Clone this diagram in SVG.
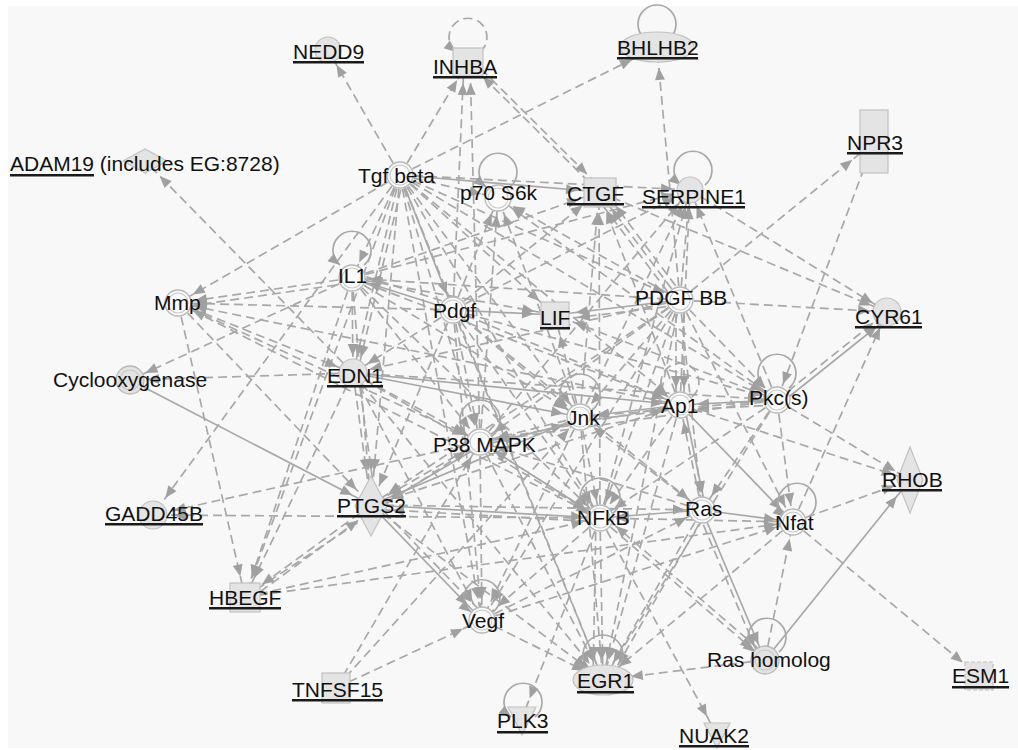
<svg xmlns="http://www.w3.org/2000/svg" width="1018" height="750" viewBox="0 0 1018 750">
<style>
#connectors path{fill:none;stroke:#a8a8a8;stroke-width:1.7}
.d{stroke-dasharray:9 5}
.a{marker-end:url(#ma)}
.b{marker-end:url(#mb)}
.c{marker-end:url(#mc)}
.e{marker-end:url(#md)}
.l{marker-end:url(#m0)}
.n{fill:none}
.f{fill:#e4e4e4;stroke:#c2c2c2;stroke-width:1.2}
.go{fill:#fbfbfb;stroke:#b8b8b8;stroke-width:1.3}
.gi{fill:none;stroke:#c8c8c8;stroke-width:1.1}
.gg{fill:#e2e2e2;stroke:#b8b8b8;stroke-width:1.3}
text{font-family:"Liberation Sans",Arial,sans-serif;font-size:21px;fill:#111}
.u{fill:#1a1a1a}
</style>
<defs>
<marker id="ma" markerUnits="userSpaceOnUse" markerWidth="12" markerHeight="10" refX="29" refY="5" orient="auto" overflow="visible"><path d="M0,0L12,5L0,10z" fill="#a0a0a0"/></marker>
<marker id="mb" markerUnits="userSpaceOnUse" markerWidth="12" markerHeight="10" refX="33" refY="5" orient="auto" overflow="visible"><path d="M0,0L12,5L0,10z" fill="#a0a0a0"/></marker>
<marker id="mc" markerUnits="userSpaceOnUse" markerWidth="12" markerHeight="10" refX="40" refY="5" orient="auto" overflow="visible"><path d="M0,0L12,5L0,10z" fill="#a0a0a0"/></marker>
<marker id="md" markerUnits="userSpaceOnUse" markerWidth="12" markerHeight="10" refX="46" refY="5" orient="auto" overflow="visible"><path d="M0,0L12,5L0,10z" fill="#a0a0a0"/></marker>
<marker id="m0" markerUnits="userSpaceOnUse" markerWidth="12" markerHeight="10" refX="12" refY="5" orient="auto" overflow="visible"><path d="M0,0L12,5L0,10z" fill="#a0a0a0"/></marker>
</defs>
<rect x="0" y="0" width="1018" height="750" fill="#ffffff"/>
<rect x="8" y="6" width="1010" height="742" fill="#f8f8f8"/>
<g id="connectors">
<path class="d a" d="M400 175L328 50"/>
<path class="d b" d="M400 175L468 62"/>
<path class="d c" d="M400 175L657 47"/>
<path class="s b" d="M400 175L599 192"/>
<path class="d a" d="M400 175L690 190"/>
<path class="d a" d="M400 175L352 278"/>
<path class="d a" d="M400 175L178 303"/>
<path class="d a" d="M400 175L353 373"/>
<path class="d a" d="M404 176L357 374"/>
<path class="d e" d="M400 175L371 505"/>
<path class="d a" d="M400 175L480 442"/>
<path class="d a" d="M400 175L580 417"/>
<path class="d b" d="M400 175L555 315"/>
<path class="s a" d="M400 175L453 310"/>
<path class="d a" d="M400 175L600 518"/>
<path class="d a" d="M400 175L680 405"/>
<path class="d a" d="M400 175L777 400"/>
<path class="d b" d="M400 175L153 515"/>
<path class="d b" d="M400 175L245 597"/>
<path class="d b" d="M400 175L603 680"/>
<path class="d b" d="M400 175L482 620"/>
<path class="d a" d="M400 175L498 198"/>
<path class="d a" d="M400 175L680 300"/>
<path class="d a" d="M453 310L498 198"/>
<path class="d a" d="M680 300L498 198"/>
<path class="d a" d="M777 400L498 198"/>
<path class="d a" d="M480 442L498 198"/>
<path class="d a" d="M580 417L498 198"/>
<path class="d b" d="M599 192L468 62"/>
<path class="d b" d="M471 59L602 189"/>
<path class="d b" d="M453 310L464 62"/>
<path class="d b" d="M480 442L470 62"/>
<path class="d b" d="M680 300L657 47"/>
<path class="d b" d="M680 300L599 192"/>
<path class="d b" d="M684 297L603 189"/>
<path class="d b" d="M676 303L595 195"/>
<path class="d b" d="M453 310L599 192"/>
<path class="d b" d="M580 417L599 192"/>
<path class="d b" d="M680 405L599 192"/>
<path class="d b" d="M352 278L599 192"/>
<path class="d b" d="M600 518L599 192"/>
<path class="d a" d="M680 300L690 190"/>
<path class="d a" d="M453 310L690 190"/>
<path class="d a" d="M580 417L690 190"/>
<path class="d a" d="M680 405L690 190"/>
<path class="d a" d="M777 400L690 190"/>
<path class="d a" d="M480 442L690 190"/>
<path class="d a" d="M690 190L887 312"/>
<path class="d a" d="M599 192L887 312"/>
<path class="d a" d="M352 278L690 190"/>
<path class="d a" d="M600 518L690 190"/>
<path class="d c" d="M680 300L874 142"/>
<path class="d a" d="M874 142L777 400"/>
<path class="s a" d="M453 310L352 278"/>
<path class="d a" d="M455 305L354 273"/>
<path class="d a" d="M680 300L352 278"/>
<path class="d a" d="M352 278L178 303"/>
<path class="d a" d="M350 283L176 308"/>
<path class="d a" d="M352 278L353 373"/>
<path class="d a" d="M352 278L130 380"/>
<path class="d e" d="M352 278L371 505"/>
<path class="d a" d="M352 278L600 518"/>
<path class="d a" d="M352 278L480 442"/>
<path class="d a" d="M352 278L580 417"/>
<path class="d b" d="M352 278L555 315"/>
<path class="d a" d="M352 278L680 405"/>
<path class="d b" d="M352 278L245 597"/>
<path class="d a" d="M453 310L178 303"/>
<path class="d a" d="M178 303L353 373"/>
<path class="d b" d="M178 303L245 597"/>
<path class="d b" d="M178 303L371 505"/>
<path class="d a" d="M178 303L480 442"/>
<path class="d a" d="M680 405L178 303"/>
<path class="d a" d="M600 518L178 303"/>
<path class="d a" d="M353 373L130 380"/>
<path class="s b" d="M130 380L371 505"/>
<path class="d b" d="M353 373L145 161"/>
<path class="d e" d="M353 373L371 505"/>
<path class="d e" d="M358 373L376 505"/>
<path class="d b" d="M353 373L245 597"/>
<path class="d a" d="M353 373L480 442"/>
<path class="s a" d="M353 373L580 417"/>
<path class="s a" d="M353 373L680 405"/>
<path class="d a" d="M353 373L600 518"/>
<path class="d a" d="M353 373L777 400"/>
<path class="d b" d="M353 373L603 680"/>
<path class="d b" d="M353 373L482 620"/>
<path class="d a" d="M453 310L353 373"/>
<path class="d a" d="M680 300L353 373"/>
<path class="s b" d="M453 310L555 315"/>
<path class="d a" d="M453 310L480 442"/>
<path class="d a" d="M453 310L580 417"/>
<path class="d a" d="M453 310L600 518"/>
<path class="d a" d="M453 310L680 405"/>
<path class="d a" d="M453 310L777 400"/>
<path class="d a" d="M453 310L702 510"/>
<path class="d b" d="M453 310L603 680"/>
<path class="d b" d="M453 310L371 505"/>
<path class="d b" d="M453 310L482 620"/>
<path class="s b" d="M680 300L555 315"/>
<path class="d b" d="M680 305L557 320"/>
<path class="d a" d="M680 300L887 312"/>
<path class="d a" d="M676 300L676 405"/>
<path class="d a" d="M684 300L684 405"/>
<path class="d a" d="M680 300L777 400"/>
<path class="d a" d="M680 300L580 417"/>
<path class="d a" d="M680 300L480 442"/>
<path class="d a" d="M680 300L600 518"/>
<path class="d a" d="M680 300L702 510"/>
<path class="d b" d="M680 300L603 680"/>
<path class="d b" d="M680 300L371 505"/>
<path class="d b" d="M680 300L482 620"/>
<path class="d a" d="M680 300L793 522"/>
<path class="d a" d="M777 400L887 312"/>
<path class="s a" d="M780 404L890 316"/>
<path class="d a" d="M777 400L910 480"/>
<path class="s a" d="M777 400L680 405"/>
<path class="d a" d="M777 405L680 410"/>
<path class="d a" d="M777 400L580 417"/>
<path class="d a" d="M777 400L600 518"/>
<path class="d a" d="M777 400L702 510"/>
<path class="d a" d="M777 400L793 522"/>
<path class="d a" d="M777 400L480 442"/>
<path class="d b" d="M777 400L603 680"/>
<path class="d b" d="M777 400L555 315"/>
<path class="d a" d="M680 405L910 480"/>
<path class="s a" d="M680 405L580 417"/>
<path class="d a" d="M580 421L680 409"/>
<path class="d a" d="M702 510L680 405"/>
<path class="s a" d="M684 405L706 510"/>
<path class="d a" d="M680 405L600 518"/>
<path class="d b" d="M680 405L603 680"/>
<path class="d a" d="M680 405L480 442"/>
<path class="s a" d="M680 405L793 522"/>
<path class="d b" d="M680 405L371 505"/>
<path class="d a" d="M580 417L480 442"/>
<path class="s a" d="M480 446L580 421"/>
<path class="d a" d="M580 417L600 518"/>
<path class="d b" d="M580 417L603 680"/>
<path class="d b" d="M580 417L555 315"/>
<path class="s b" d="M580 417L371 505"/>
<path class="d b" d="M580 417L482 620"/>
<path class="d a" d="M702 510L580 417"/>
<path class="d b" d="M480 442L371 505"/>
<path class="s b" d="M480 446L373 510"/>
<path class="d b" d="M480 442L153 515"/>
<path class="d a" d="M480 442L600 518"/>
<path class="d b" d="M480 442L603 680"/>
<path class="d b" d="M480 442L482 620"/>
<path class="d a" d="M702 510L480 442"/>
<path class="d a" d="M336 688L480 442"/>
<path class="d a" d="M336 688L580 417"/>
<path class="d a" d="M245 597L480 442"/>
<path class="d a" d="M600 518L480 442"/>
<path class="s a" d="M371 505L600 518"/>
<path class="d b" d="M600 522L371 509"/>
<path class="s b" d="M371 505L482 620"/>
<path class="d b" d="M375 502L486 617"/>
<path class="d b" d="M371 505L245 597"/>
<path class="d b" d="M249 600L375 508"/>
<path class="d b" d="M371 505L603 680"/>
<path class="d a" d="M371 505L702 510"/>
<path class="d b" d="M600 518L153 515"/>
<path class="d b" d="M600 518L603 680"/>
<path class="d b" d="M596 518L593 680"/>
<path class="d b" d="M600 518L522 718"/>
<path class="d b" d="M600 518L717 735"/>
<path class="d a" d="M600 518L765 660"/>
<path class="d a" d="M768 657L603 515"/>
<path class="d b" d="M600 518L482 620"/>
<path class="s a" d="M702 510L600 518"/>
<path class="d a" d="M245 597L600 518"/>
<path class="d a" d="M793 522L600 518"/>
<path class="s a" d="M702 510L765 660"/>
<path class="d a" d="M698 512L761 662"/>
<path class="d b" d="M702 510L603 680"/>
<path class="d b" d="M706 512L608 682"/>
<path class="s a" d="M702 510L793 522"/>
<path class="d a" d="M482 620L702 510"/>
<path class="d b" d="M793 522L979 676"/>
<path class="d a" d="M793 522L910 480"/>
<path class="d a" d="M793 522L887 312"/>
<path class="d a" d="M765 660L793 522"/>
<path class="d a" d="M245 597L793 522"/>
<path class="d a" d="M482 620L793 522"/>
<path class="d b" d="M793 522L603 680"/>
<path class="s b" d="M765 660L910 480"/>
<path class="d c" d="M765 660L603 680"/>
<path class="d b" d="M336 688L482 620"/>
<path class="d b" d="M482 620L603 680"/>
<path class="d l" d="M480 52A19 19 0 1 0 456 52"/>
<circle class="n" cx="657" cy="24" r="19" stroke="#a8a8a8" stroke-width="1.7"/>
<path class="l" d="M510 187A19 19 0 1 0 486 187"/>
<path class="l" d="M705 185A19 19 0 1 0 681 185"/>
<path class="l" d="M364 265A19 19 0 1 0 340 265"/>
<path class="l" d="M789 388A19 19 0 1 0 765 388"/>
<path class="d l" d="M692 397A19 19 0 1 0 668 397"/>
<path class="l" d="M592 410A20 20 0 1 0 568 410"/>
<path class="l" d="M492 436A20 20 0 1 0 468 436"/>
<path class="l" d="M612 514A20 20 0 1 0 588 514"/>
<path class="l" d="M809 517A19 19 0 1 0 785 517"/>
<path class="l" d="M493 612A18 18 0 1 0 471 612"/>
<path class="l" d="M615 671A20 20 0 1 0 591 671"/>
<path class="l" d="M779 652A19 19 0 1 0 755 652"/>
<path class="l" d="M535 717A19 19 0 1 0 511 717"/>
</g>
<g id="node-NEDD9"><circle class="f" cx="328" cy="50" r="13"/><text x="293" y="59">NEDD9</text><rect class="u" x="293" y="61" width="71" height="2.5"/></g>
<g id="node-INHBA"><rect class="f" x="453" y="48" width="30" height="28"/><text x="433" y="74">INHBA</text><rect class="u" x="433" y="76" width="64" height="2.5"/></g>
<g id="node-BHLHB2"><ellipse class="f" cx="657" cy="47" rx="37" ry="15"/><text x="617" y="55">BHLHB2</text><rect class="u" x="617" y="57" width="81" height="2.5"/></g>
<g id="node-ADAM19"><path class="f" d="M123 161L145 149L167 161L145 173z"/><text x="10" y="171">ADAM19 (includes EG:8728)</text><rect class="u" x="10" y="174" width="84" height="2.5"/></g>
<g id="node-Tgfbeta"><circle class="go" cx="400" cy="175" r="13"/><circle class="gi" cx="400" cy="175" r="10"/><text x="358" y="183">Tgf beta</text></g>
<g id="node-p70S6k"><circle class="go" cx="498" cy="198" r="13"/><circle class="gi" cx="498" cy="198" r="10"/><text x="460" y="200">p70 S6k</text></g>
<g id="node-CTGF"><rect class="f" x="584" y="178" width="32" height="29"/><text x="567" y="201">CTGF</text><rect class="u" x="567" y="203" width="57" height="2.5"/></g>
<g id="node-SERPINE1"><circle class="f" cx="690" cy="190" r="13"/><text x="642" y="204">SERPINE1</text><rect class="u" x="642" y="206" width="103" height="2.5"/></g>
<g id="node-NPR3"><rect class="f" x="860" y="110" width="28" height="63"/><text x="847" y="150">NPR3</text><rect class="u" x="847" y="152" width="56" height="2.5"/></g>
<g id="node-IL1"><circle class="go" cx="352" cy="278" r="13"/><circle class="gi" cx="352" cy="278" r="10"/><text x="338" y="283">IL1</text></g>
<g id="node-Mmp"><circle class="go" cx="178" cy="303" r="13"/><circle class="gi" cx="178" cy="303" r="10"/><text x="154" y="310">Mmp</text></g>
<g id="node-Pdgf"><circle class="go" cx="453" cy="310" r="13"/><circle class="gi" cx="453" cy="310" r="10"/><text x="433" y="318">Pdgf</text></g>
<g id="node-LIF"><rect class="f" x="541" y="302" width="28" height="26"/><text x="540" y="325">LIF</text><rect class="u" x="540" y="327" width="30" height="2.5"/></g>
<g id="node-PDGFBB"><circle class="go" cx="680" cy="300" r="13"/><circle class="gi" cx="680" cy="300" r="10"/><text x="635" y="305">PDGF BB</text></g>
<g id="node-CYR61"><circle class="f" cx="887" cy="312" r="14"/><text x="855" y="324">CYR61</text><rect class="u" x="855" y="326" width="67" height="2.5"/></g>
<g id="node-Cyclooxygenase"><circle class="gg" cx="130" cy="380" r="14"/><circle class="gi" cx="130" cy="380" r="10"/><text x="53" y="387">Cyclooxygenase</text></g>
<g id="node-EDN1"><circle class="f" cx="353" cy="373" r="14"/><text x="327" y="383">EDN1</text><rect class="u" x="327" y="385" width="56" height="2.5"/></g>
<g id="node-Pkcs"><circle class="go" cx="777" cy="400" r="13"/><circle class="gi" cx="777" cy="400" r="10"/><text x="749" y="405">Pkc(s)</text></g>
<g id="node-Ap1"><circle class="go" cx="680" cy="405" r="13"/><circle class="gi" cx="680" cy="405" r="10"/><text x="661" y="413">Ap1</text></g>
<g id="node-Jnk"><circle class="go" cx="580" cy="417" r="13"/><circle class="gi" cx="580" cy="417" r="10"/><text x="567" y="425">Jnk</text></g>
<g id="node-P38MAPK"><circle class="go" cx="480" cy="442" r="13"/><circle class="gi" cx="480" cy="442" r="10"/><text x="433" y="452">P38 MAPK</text></g>
<g id="node-RHOB"><path class="f" d="M910 447L923 480L910 513L897 480z"/><text x="882" y="487">RHOB</text><rect class="u" x="882" y="489" width="60" height="2.5"/></g>
<g id="node-GADD45B"><circle class="f" cx="153" cy="515" r="14"/><text x="105" y="521">GADD45B</text><rect class="u" x="105" y="523" width="98" height="2.5"/></g>
<g id="node-PTGS2"><path class="f" d="M371 476L387 506L371 536L355 506z"/><text x="337" y="513">PTGS2</text><rect class="u" x="337" y="515" width="69" height="2.5"/></g>
<g id="node-NFkB"><circle class="go" cx="600" cy="518" r="13"/><circle class="gi" cx="600" cy="518" r="10"/><text x="577" y="525">NFkB</text></g>
<g id="node-Ras"><circle class="go" cx="702" cy="510" r="13"/><circle class="gi" cx="702" cy="510" r="10"/><text x="685" y="516">Ras</text></g>
<g id="node-Nfat"><circle class="go" cx="793" cy="522" r="13"/><circle class="gi" cx="793" cy="522" r="10"/><text x="775" y="530">Nfat</text></g>
<g id="node-HBEGF"><rect class="f" x="230" y="583" width="30" height="29"/><text x="209" y="605">HBEGF</text><rect class="u" x="209" y="607" width="72" height="2.5"/></g>
<g id="node-Vegf"><circle class="go" cx="482" cy="620" r="13"/><circle class="gi" cx="482" cy="620" r="10"/><text x="462" y="628">Vegf</text></g>
<g id="node-TNFSF15"><rect class="f" x="322" y="673" width="28" height="30"/><text x="292" y="697">TNFSF15</text><rect class="u" x="292" y="699" width="91" height="2.5"/></g>
<g id="node-Rashomolog"><circle class="gg" cx="765" cy="660" r="14"/><circle class="gi" cx="765" cy="660" r="10"/><text x="707" y="667">Ras homolog</text></g>
<g id="node-EGR1"><ellipse class="f" cx="603" cy="680" rx="30" ry="15"/><text x="577" y="688">EGR1</text><rect class="u" x="577" y="691" width="57" height="2.5"/></g>
<g id="node-PLK3"><path class="f" d="M508 707L536 707L522 735z"/><text x="497" y="728">PLK3</text><rect class="u" x="497" y="731" width="51" height="2.5"/></g>
<g id="node-NUAK2"><path class="f" d="M704 723L730 723L717 748z"/><text x="679" y="743">NUAK2</text><rect class="u" x="679" y="745" width="70" height="2.5"/></g>
<g id="node-ESM1"><rect class="f" x="965" y="662" width="28" height="28" stroke-dasharray="4 2"/><text x="952" y="683">ESM1</text><rect class="u" x="952" y="686" width="57" height="2.5"/></g>
</svg>
